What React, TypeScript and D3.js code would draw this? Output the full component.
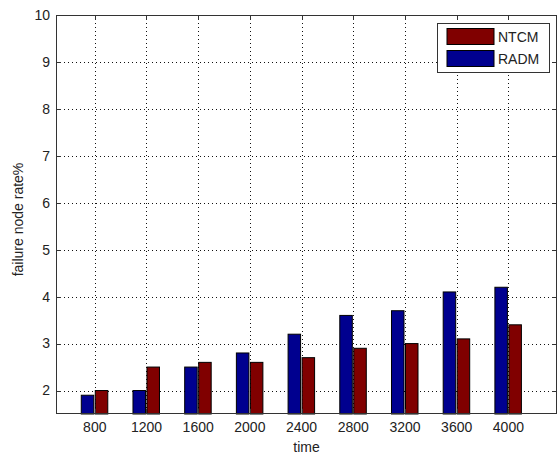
import React, { useEffect, useRef } from "react";
import * as d3 from "d3";

const categories = ["800", "1200", "1600", "2000", "2400", "2800", "3200", "3600", "4000"];
const radm = [1.9, 2.0, 2.5, 2.8, 3.2, 3.6, 3.7, 4.1, 4.2];
const ntcm = [2.0, 2.5, 2.6, 2.6, 2.7, 2.9, 3.0, 3.1, 3.4];
const yTicks = [2, 3, 4, 5, 6, 7, 8, 9, 10];
const seriesNames = ["NTCM", "RADM"];

const W = 558, H = 455;
const L = 56, R = 557, T = 15, B = 414;
const BLUE = "#00008f";
const RED = "#800000";
const FONT = "'Liberation Sans', Arial, sans-serif";

export default function App() {
  const ref = useRef<SVGSVGElement>(null);
  useEffect(() => {
    const svg = d3.select(ref.current);
    svg.selectAll("*").remove();
    const x = d3.scaleLinear().domain([0.25, 9.94]).range([L, R]);
    const y = d3.scaleLinear().domain([1.5, 10]).range([B, T]);
    const bw = 13.5;

    svg.append("rect").attr("width", W).attr("height", H).attr("fill", "#fff");

    const grid = svg.append("g").attr("stroke", "#111").attr("stroke-width", 1).attr("stroke-dasharray", "1 3");
    yTicks.forEach((t) => {
      const yy = Math.round(y(t)) + 0.5;
      grid.append("line").attr("x1", L).attr("x2", R).attr("y1", yy).attr("y2", yy);
    });
    categories.forEach((_, i) => {
      const xx = Math.round(x(i + 1)) + 0.5;
      grid.append("line").attr("x1", xx).attr("x2", xx).attr("y1", T).attr("y2", B);
    });

    const bars = svg.append("g").attr("stroke", "#000").attr("stroke-width", 1);
    categories.forEach((_, i) => {
      const c = x(i + 1);
      bars.append("rect").attr("x", c - bw).attr("y", y(radm[i])).attr("width", bw - 1).attr("height", B - y(radm[i])).attr("fill", BLUE);
      bars.append("rect").attr("x", c + 0.5).attr("y", y(ntcm[i])).attr("width", bw - 1).attr("height", B - y(ntcm[i])).attr("fill", RED);
    });

    const ax = svg.append("g").attr("stroke", "#333").attr("stroke-width", 1);
    ax.append("rect").attr("x", L + 0.5).attr("y", T + 0.5).attr("width", R - L - 1).attr("height", B - T - 1).attr("fill", "none");
    yTicks.forEach((t) => {
      const yy = Math.round(y(t)) + 0.5;
      ax.append("line").attr("x1", L).attr("x2", L + 5).attr("y1", yy).attr("y2", yy);
      ax.append("line").attr("x1", R - 5).attr("x2", R).attr("y1", yy).attr("y2", yy);
    });
    categories.forEach((_, i) => {
      const xx = Math.round(x(i + 1)) + 0.5;
      ax.append("line").attr("x1", xx).attr("x2", xx).attr("y1", B).attr("y2", B - 5);
      ax.append("line").attr("x1", xx).attr("x2", xx).attr("y1", T).attr("y2", T + 5);
    });

    const txt = svg.append("g").attr("font-family", FONT).attr("font-size", 14).attr("fill", "#222");
    yTicks.forEach((t) => {
      txt.append("text").attr("x", 50).attr("y", y(t)).attr("dy", "0.35em").attr("text-anchor", "end").text(t);
    });
    categories.forEach((c, i) => {
      txt.append("text").attr("x", x(i + 1)).attr("y", 432).attr("text-anchor", "middle").text(c);
    });
    txt.append("text").attr("x", (L + R) / 2).attr("y", 452).attr("text-anchor", "middle").text("time");
    txt.append("text").attr("transform", `translate(23,${(T + B) / 2 + 5}) rotate(-90)`).attr("text-anchor", "middle").text("failure node rate%");

    const lg = svg.append("g");
    lg.append("rect").attr("x", 437.5).attr("y", 23.5).attr("width", 112).attr("height", 49).attr("fill", "#fff").attr("stroke", "#333");
    const colors = [RED, BLUE];
    seriesNames.forEach((n, i) => {
      lg.append("rect").attr("x", 447).attr("y", 28.5 + i * 22).attr("width", 47).attr("height", 16).attr("fill", colors[i]).attr("stroke", "#000");
      lg.append("text").attr("x", 498).attr("y", 42 + i * 22).attr("font-family", FONT).attr("font-size", 14).attr("fill", "#222").text(n);
    });
  }, []);
  return (
    <svg ref={ref} width={W} height={H} style={{ position: "absolute", left: 0, top: 0, display: "block" }} />
  );
}
